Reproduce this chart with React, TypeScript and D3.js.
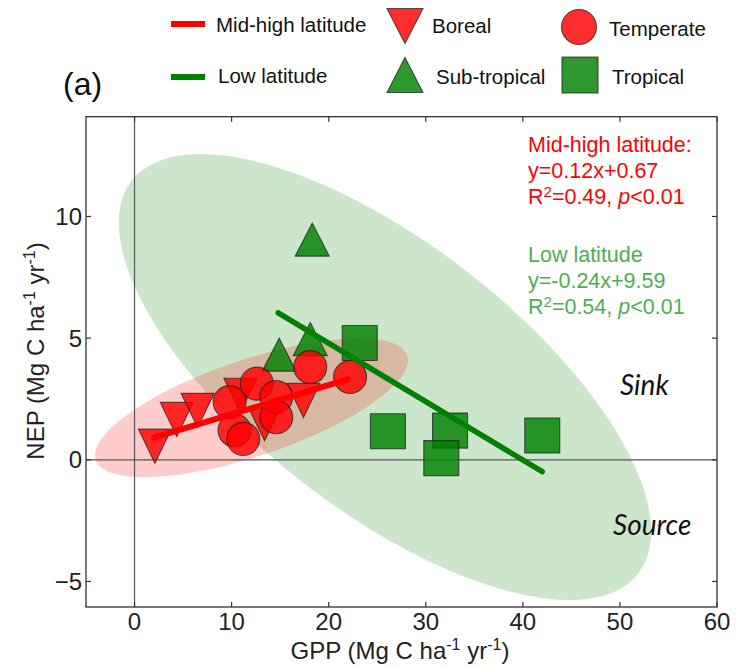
import { useEffect, useRef } from 'react';
import * as d3 from 'd3';

// Boreal (mid-high latitude)
const borealGPP = [2.1, 4.35, 6.5, 10.9, 13.4, 17.4];
const borealNEP = [0.56, 1.66, 2.03, 2.65, 1.48, 2.44];
// Temperate (mid-high latitude)
const temperateGPP = [18.1, 22.2, 12.6, 14.6, 9.8, 14.6, 10.3, 11.2];
const temperateNEP = [3.81, 3.4, 3.13, 2.58, 2.37, 1.75, 1.21, 0.86];
// Sub-tropical (low latitude)
const subtropicalGPP = [18.3, 18.1, 14.9];
const subtropicalNEP = [9.05, 4.96, 4.32];
// Tropical (low latitude)
const tropicalGPP = [23.2, 26.1, 32.5, 31.6, 42.0];
const tropicalNEP = [4.8, 1.17, 1.2, 0.07, 1.0];

// regression lines: slope, intercept, GPP range
const midHighFit = [0.12, 0.67, 2, 22];
const lowFit = [-0.24, 9.59, 14.8, 42];

// confidence ellipses: mean GPP, mean NEP, var GPP, cov, var NEP
const midHighEllipse = [12.05, 2.14, 259.8, 31.4, 8.13];
const lowEllipse = [25.8, 3.4, 752, -174, 84];

const xTicks = [0, 10, 20, 30, 40, 50, 60];
const yTicks = [-5, 0, 5, 10];

const RED = '#ff0000';
const GREEN = '#008000';
const TEXT_GREEN = '#4caf50';
const FONT = '"Liberation Sans", Arial, sans-serif';

export default function App() {
  const svgRef = useRef(null);

  useEffect(() => {
    const svg = d3.select(svgRef.current);
    svg.selectAll('*').remove();

    const x = d3.scaleLinear().domain([-5, 60]).range([86, 717]);
    const y = d3.scaleLinear().domain([-6.05, 14.1]).range([607, 116.7]);

    // ellipse outline from center + covariance (cholesky)
    const ellipsePath = (e) => {
      const [mx, my, sxx, sxy, syy] = e;
      const l11 = Math.sqrt(sxx);
      const l21 = sxy / l11;
      const l22 = Math.sqrt(syy - l21 * l21);
      const pts = d3.range(0, 361, 3).map(deg => {
        const t = (deg * Math.PI) / 180;
        const c = Math.cos(t), s = Math.sin(t);
        return [x(mx + l11 * c), y(my + l21 * c + l22 * s)];
      });
      return d3.line()(pts) + 'Z';
    };

    const plot = svg.append('g');

    plot.append('path').attr('d', ellipsePath(lowEllipse))
      .attr('fill', GREEN).attr('fill-opacity', 0.2);
    plot.append('path').attr('d', ellipsePath(midHighEllipse))
      .attr('fill', RED).attr('fill-opacity', 0.2);

    // zero lines
    plot.append('line')
      .attr('x1', x(0)).attr('x2', x(0))
      .attr('y1', y.range()[0]).attr('y2', y.range()[1])
      .attr('stroke', '#555').attr('stroke-width', 1.2);
    plot.append('line')
      .attr('x1', x.range()[0]).attr('x2', x.range()[1])
      .attr('y1', y(0)).attr('y2', y(0))
      .attr('stroke', '#555').attr('stroke-width', 1.2);

    // marker shapes
    const triUp = (w, h) => `M0,${-h / 2}L${w / 2},${h / 2}L${-w / 2},${h / 2}Z`;
    const triDown = (w, h) => `M0,${h / 2}L${w / 2},${-h / 2}L${-w / 2},${-h / 2}Z`;
    const square = s => `M${-s / 2},${-s / 2}h${s}v${s}h${-s}Z`;
    const circle = r => `M${r},0A${r},${r} 0 1,1 ${-r},0A${r},${r} 0 1,1 ${r},0Z`;

    const drawMarkers = (gx, gy, d, color) => {
      plot.append('g').selectAll('path')
        .data(gx.map((v, i) => [v, gy[i]]))
        .enter()
        .append('path')
        .attr('transform', p => `translate(${x(p[0])},${y(p[1])})`)
        .attr('d', d)
        .attr('fill', color)
        .attr('fill-opacity', 0.82)
        .attr('stroke', '#222')
        .attr('stroke-opacity', 0.75)
        .attr('stroke-width', 1.1);
    };

    drawMarkers(subtropicalGPP, subtropicalNEP, triUp(34, 33), GREEN);
    drawMarkers(tropicalGPP, tropicalNEP, square(35), GREEN);
    drawMarkers(borealGPP, borealNEP, triDown(33, 34), RED);
    drawMarkers(temperateGPP, temperateNEP, circle(16.5), RED);

    // regression lines
    const fitLine = (f, color, w) => {
      const [a, b, x0, x1] = f;
      plot.append('line')
        .attr('x1', x(x0)).attr('y1', y(a * x0 + b))
        .attr('x2', x(x1)).attr('y2', y(a * x1 + b))
        .attr('stroke', color).attr('stroke-width', w)
        .attr('stroke-linecap', 'round');
    };
    fitLine(midHighFit, RED, 6);
    fitLine(lowFit, GREEN, 5.5);

    // frame
    const [x0, x1] = x.range();
    const [yb, yt] = y.range();
    svg.append('rect')
      .attr('x', x0).attr('y', yt)
      .attr('width', x1 - x0).attr('height', yb - yt)
      .attr('fill', 'none').attr('stroke', '#333').attr('stroke-width', 1.3);

    // ticks (inward, all four sides)
    const tk = svg.append('g').attr('stroke', '#333').attr('stroke-width', 1.2);
    xTicks.forEach(t => {
      tk.append('line').attr('x1', x(t)).attr('x2', x(t)).attr('y1', yb).attr('y2', yb - 5);
      tk.append('line').attr('x1', x(t)).attr('x2', x(t)).attr('y1', yt).attr('y2', yt + 5);
    });
    yTicks.forEach(t => {
      tk.append('line').attr('x1', x0).attr('x2', x0 + 5).attr('y1', y(t)).attr('y2', y(t));
      tk.append('line').attr('x1', x1).attr('x2', x1 - 5).attr('y1', y(t)).attr('y2', y(t));
    });

    const fmt = v => (v < 0 ? '\u2212' + Math.abs(v) : String(v));

    svg.append('g').selectAll('text')
      .data(xTicks).enter().append('text')
      .attr('x', d => x(d)).attr('y', 630)
      .attr('text-anchor', 'middle')
      .attr('font-family', FONT).attr('font-size', 24).attr('fill', '#222')
      .text(fmt);

    svg.append('g').selectAll('text')
      .data(yTicks).enter().append('text')
      .attr('x', 82).attr('y', d => y(d) + 8.5)
      .attr('text-anchor', 'end')
      .attr('font-family', FONT).attr('font-size', 24).attr('fill', '#222')
      .text(fmt);

    // axis titles with superscripts
    const unitLabel = (sel, name) => {
      sel.append('tspan').text(`${name} (Mg C ha`);
      sel.append('tspan').attr('dy', -9).attr('font-size', 16).text('-1');
      sel.append('tspan').attr('dy', 9).text(' yr');
      sel.append('tspan').attr('dy', -9).attr('font-size', 16).text('-1');
      sel.append('tspan').attr('dy', 9).text(')');
    };
    const xt = svg.append('text')
      .attr('x', 400).attr('y', 659).attr('text-anchor', 'middle')
      .attr('font-family', FONT).attr('font-size', 24).attr('fill', '#222');
    unitLabel(xt, 'GPP');
    const yl = svg.append('text')
      .attr('transform', 'translate(44,351) rotate(-90)').attr('text-anchor', 'middle')
      .attr('font-family', FONT).attr('font-size', 24).attr('fill', '#222');
    unitLabel(yl, 'NEP');

    // annotations
    const ann = (lines, color, x0, y0) => {
      lines.forEach((ln, i) => {
        const t = svg.append('text')
          .attr('x', x0).attr('y', y0 + i * 26)
          .attr('font-family', FONT).attr('font-size', 21.5).attr('fill', color);
        if (typeof ln === 'string') { t.text(ln); return; }
        t.append('tspan').text('R');
        t.append('tspan').attr('dy', -7).attr('font-size', 15).text('2');
        t.append('tspan').attr('dy', 7).text(`=${ln[0]}, `);
        t.append('tspan').attr('font-style', 'italic').text('p');
        t.append('tspan').text('<0.01');
      });
    };
    ann(['Mid-high latitude:', 'y=0.12x+0.67', ['0.49']], RED, 528, 152);
    ann(['Low latitude', 'y=-0.24x+9.59', ['0.54']], TEXT_GREEN, 528, 262);

    svg.append('text').attr('x', 620).attr('y', 395)
      .attr('font-family', 'Lato, "Open Sans", sans-serif').attr('font-style', 'italic')
      .attr('font-size', 28).attr('fill', '#111').text('Sink');
    svg.append('text').attr('x', 613).attr('y', 535)
      .attr('font-family', 'Lato, "Open Sans", sans-serif').attr('font-style', 'italic')
      .attr('font-size', 28).attr('fill', '#111').text('Source');

    // panel label
    svg.append('text').attr('x', 63).attr('y', 95)
      .attr('font-family', FONT).attr('font-size', 32).attr('fill', '#111').text('(a)');

    // legend
    const lg = svg.append('g');
    const legendText = (tx, ty, s) => lg.append('text')
      .attr('x', tx).attr('y', ty)
      .attr('font-family', FONT).attr('font-size', 20.5).attr('fill', '#111').text(s);
    const legendMarker = (cx, cy, d, color) => lg.append('path')
      .attr('transform', `translate(${cx},${cy})`).attr('d', d)
      .attr('fill', color).attr('fill-opacity', 0.82)
      .attr('stroke', '#222').attr('stroke-opacity', 0.75).attr('stroke-width', 1.1);

    lg.append('line').attr('x1', 171).attr('x2', 205).attr('y1', 24).attr('y2', 24)
      .attr('stroke', RED).attr('stroke-width', 6);
    legendText(216, 32, 'Mid-high latitude');
    legendMarker(405, 26, triDown(36, 35), RED);
    legendText(432, 33, 'Boreal');
    legendMarker(579, 27, circle(17.5), RED);
    legendText(609, 36, 'Temperate');

    lg.append('line').attr('x1', 171).attr('x2', 205).attr('y1', 77).attr('y2', 77)
      .attr('stroke', GREEN).attr('stroke-width', 6);
    legendText(218, 83, 'Low latitude');
    legendMarker(405, 75, triUp(36, 35), GREEN);
    legendText(436, 84, 'Sub-tropical');
    legendMarker(580, 75, square(36), GREEN);
    legendText(612, 84, 'Tropical');
  }, []);

  return (
    <svg
      ref={svgRef}
      width={736}
      height={667}
      style={{ position: 'absolute', left: 0, top: 0, background: '#fff' }}
    />
  );
}
